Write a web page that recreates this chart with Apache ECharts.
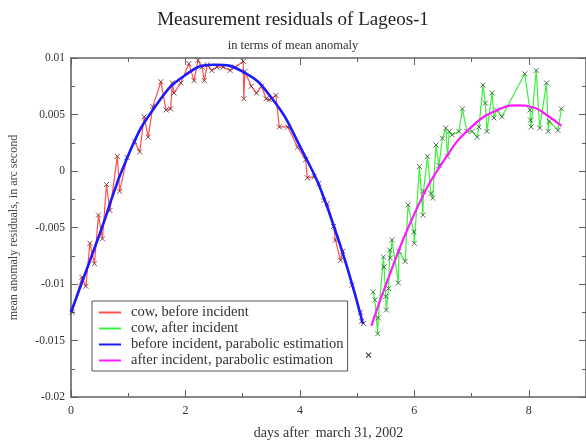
<!DOCTYPE html>
<html>
<head>
<meta charset="utf-8">
<script src="https://cdn.jsdelivr.net/npm/echarts@6/dist/echarts.min.js"></script>
<style>
  html, body { margin: 0; padding: 0; background: #fff; }
  #chart { width: 586px; height: 446px; }
</style>
</head>
<body>
<div id="chart"></div>
<script>
// Observed residuals before the incident: [day, residual]
const cowBefore = [
  [0.02,-0.0125],[0.19,-0.0094],[0.26,-0.0102],[0.33,-0.0064],[0.41,-0.0082],
  [0.48,-0.0039],[0.55,-0.0060],[0.62,-0.0012],[0.68,-0.0035],[0.81,0.0013],
  [0.85,-0.0018],[0.98,0.0012],[1.11,0.0026],[1.20,0.0017],[1.28,0.0048],
  [1.35,0.0030],[1.43,0.0057],[1.57,0.0079],[1.66,0.0054],[1.74,0.0055],
  [1.77,0.0078],[1.80,0.0069],[1.92,0.0078],[2.06,0.0095],[2.15,0.0080],
  [2.22,0.0098],[2.29,0.0092],[2.33,0.0080],[2.38,0.0094],[2.46,0.0089],
  [2.55,0.0092],[2.66,0.0092],[2.78,0.0089],[2.87,0.0092],[3.01,0.0097],
  [3.02,0.0064],[3.04,0.0088],[3.15,0.0075],[3.24,0.0069],[3.33,0.0075],
  [3.41,0.0064],[3.47,0.0063],[3.58,0.0067],[3.64,0.0039],[3.79,0.0039],
  [3.96,0.0021],[4.10,0.0010],[4.13,-0.0006],[4.25,-0.0005],[4.33,-0.0011],
  [4.42,-0.0026],[4.48,-0.0029],[4.59,-0.0049],[4.62,-0.0061],[4.71,-0.0079],
  [4.75,-0.0071],[4.91,-0.0101],[5.06,-0.0125],[5.08,-0.0133],[5.11,-0.0135]
];

// Observed residuals after the incident
const cowAfter = [
  [5.28,-0.0107],[5.31,-0.0114],[5.36,-0.0144],[5.37,-0.0130],[5.46,-0.0076],
  [5.47,-0.0085],[5.50,-0.0111],[5.51,-0.0123],[5.55,-0.0104],[5.57,-0.0070],
  [5.58,-0.0077],[5.61,-0.0061],[5.72,-0.0099],[5.73,-0.0071],[5.84,-0.0080],
  [5.89,-0.0030],[5.99,-0.0054],[6.00,-0.0064],[6.09,0.0004],[6.15,-0.0039],
  [6.16,-0.0018],[6.23,0.0013],[6.29,-0.0020],[6.32,-0.0024],[6.38,0.0023],
  [6.43,0.0005],[6.49,0.0029],[6.55,0.0038],[6.58,0.0013],[6.61,0.0035],
  [6.66,0.0032],[6.78,0.0035],[6.84,0.0055],[6.92,0.0035],[7.01,0.0035],
  [7.10,0.0030],[7.13,0.0039],[7.20,0.0076],[7.24,0.0060],[7.27,0.0035],
  [7.36,0.0069],[7.39,0.0047],[7.44,0.0054],[7.53,0.0048],[7.93,0.0086],
  [8.02,0.0054],[8.03,0.0045],[8.04,0.0039],[8.13,0.0089],[8.19,0.0038],
  [8.31,0.0078],[8.34,0.0035],[8.36,0.0044],[8.51,0.0036],[8.57,0.0055]
];

// Parabolic estimations, sampled along each fitted curve
const fitBefore = [
  [0,-0.0125],[0.5,-0.0056],[1.0,0.0014],[1.5,0.0059],[2.0,0.0085],[2.5,0.0094],
  [3.0,0.0088],[3.5,0.0065],[4.0,0.0022],[4.5,-0.0035],[5.1,-0.0135]
];
const fitAfter = [
  [5.25,-0.0137],[5.5,-0.0101],[6.0,-0.0038],[6.5,0.0008],[7.0,0.0039],
  [7.5,0.0055],[7.8,0.0058],[8.1,0.0056],[8.3,0.0050],[8.57,0.0040]
];

// Isolated measurement near the incident
const isolated = [[5.2,-0.0163]];

// Axis tick labels
const xTickLabels = ['0','2','4','6','8'];
const yTickLabels = ['-0.02','-0.015','-0.01','-0.005','0','0.005','0.01'];

const seriesNames = [
  'cow, before incident',
  'cow, after incident',
  'before incident, parabolic estimation',
  'after incident, parabolic estimation'
];

const SERIF = 'Liberation Serif, DejaVu Serif, serif';
const AXIS_COLOR = '#626262';
const TEXT_COLOR = '#333';
const cross = 'path://M0,0L10,10M10,0L0,10';

function baseAxis(extra) {
  return Object.assign({
    type: 'value',
    axisLine: { show: true, onZero: false, lineStyle: { color: AXIS_COLOR, width: 1.6 } },
    axisTick: { show: true, inside: true, length: 7, lineStyle: { color: AXIS_COLOR, width: 1 } },
    minorTick: { show: true, splitNumber: 2, length: 4, lineStyle: { color: AXIS_COLOR, width: 1 } },
    splitLine: { show: false },
    minorSplitLine: { show: false }
  }, extra);
}

const chart = echarts.init(document.getElementById('chart'), null, { renderer: 'canvas' });

chart.setOption({
  animation: false,
  backgroundColor: '#ffffff',
  title: [
    {
      text: 'Measurement residuals of Lageos-1',
      left: 'center', top: 6,
      textStyle: { fontFamily: SERIF, fontSize: 19, fontWeight: 'normal', color: '#222' }
    },
    {
      text: 'in terms of mean anomaly',
      left: 'center', top: 34,
      textStyle: { fontFamily: SERIF, fontSize: 12.5, fontWeight: 'normal', color: TEXT_COLOR }
    }
  ],
  grid: { left: 69, right: -3, top: 58, bottom: 49 },
  legend: {
    orient: 'vertical',
    left: 92, top: 301,
    data: seriesNames,
    itemWidth: 22, itemHeight: 10, itemGap: 1,
    padding: [4, 4, 3, 6],
    borderColor: '#555', borderWidth: 1,
    backgroundColor: '#fff',
    itemStyle: { opacity: 0 },
    textStyle: { fontFamily: SERIF, fontSize: 14.5, color: TEXT_COLOR, padding: [0, 0, 0, 5] }
  },
  xAxis: [
    baseAxis({
      position: 'bottom', min: 0, max: 9, interval: 2,
      name: 'days after  march 31, 2002',
      nameLocation: 'middle', nameGap: 29,
      nameTextStyle: { fontFamily: SERIF, fontSize: 14, color: TEXT_COLOR },
      axisLabel: {
        fontFamily: SERIF, fontSize: 12, color: TEXT_COLOR, margin: 8, showMaxLabel: false,
        formatter: v => xTickLabels[Math.round(v / 2)] ?? ''
      }
    }),
    baseAxis({
      position: 'top', min: 0, max: 9, interval: 2,
      axisLabel: { show: false }
    })
  ],
  yAxis: [
    baseAxis({
      position: 'left', min: -0.02, max: 0.01, interval: 0.005,
      name: 'mean anomaly residuals, in arc second',
      nameLocation: 'middle', nameGap: 51,
      nameTextStyle: { fontFamily: SERIF, fontSize: 12, color: '#444' },
      axisLabel: {
        fontFamily: SERIF, fontSize: 11.5, color: TEXT_COLOR, margin: 6,
        formatter: v => yTickLabels[Math.round((v + 0.02) / 0.005)] ?? ''
      }
    }),
    baseAxis({
      position: 'right', min: -0.02, max: 0.01, interval: 0.005,
      axisLabel: { show: false }
    })
  ],
  series: [
    {
      name: seriesNames[0], type: 'line', data: cowBefore,
      showSymbol: false, symbol: 'none', z: 2,
      color: '#ff5050', lineStyle: { color: '#ff5050', width: 1.2 }
    },
    {
      name: seriesNames[1], type: 'line', data: cowAfter,
      showSymbol: false, symbol: 'none', z: 2,
      color: '#3cf03c', lineStyle: { color: '#3cf03c', width: 1.2 }
    },
    {
      type: 'scatter', data: cowBefore, symbol: cross, symbolSize: 5, z: 3,
      itemStyle: { color: 'rgba(0,0,0,0)', borderColor: '#6a1f1f', borderWidth: 1 }
    },
    {
      type: 'scatter', data: cowAfter, symbol: cross, symbolSize: 5, z: 3,
      itemStyle: { color: 'rgba(0,0,0,0)', borderColor: '#2f4f2f', borderWidth: 1 }
    },
    {
      type: 'scatter', data: isolated, symbol: cross, symbolSize: 5, z: 3,
      itemStyle: { color: 'rgba(0,0,0,0)', borderColor: '#111', borderWidth: 1.2 }
    },
    {
      name: seriesNames[2], type: 'line', data: fitBefore, smooth: true,
      showSymbol: false, symbol: 'none', z: 4,
      color: '#1a1aff', lineStyle: { color: '#1a1aff', width: 2.6 }
    },
    {
      name: seriesNames[3], type: 'line', data: fitAfter, smooth: true,
      showSymbol: false, symbol: 'none', z: 4,
      color: '#ff1aff', lineStyle: { color: '#ff1aff', width: 2.2 }
    }
  ]
});
</script>
</body>
</html>
